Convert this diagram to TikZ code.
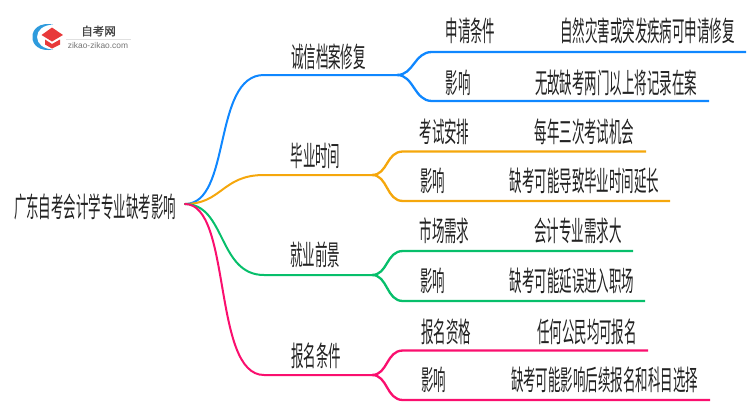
\documentclass[tikz,border=0pt]{standalone}
\usepackage{fontspec}
\newfontfamily\cjkn[FakeStretch=0.445]{Noto Sans CJK SC}
\newfontfamily\cjklogo{Noto Sans CJK SC}
\setsansfont{Liberation Sans}
\definecolor{cblue}{HTML}{0F87FF}
\definecolor{corange}{HTML}{F5A70C}
\definecolor{cgreen}{HTML}{07BF6B}
\definecolor{cpink}{HTML}{FA0F6E}
\definecolor{ctext}{HTML}{222222}
\definecolor{logoblue}{HTML}{2E9BDD}
\definecolor{logored}{HTML}{E8393A}
\tikzset{
  lbl/.style={inner sep=0pt,anchor=center,text=ctext,font=\cjkn\fontsize{28}{28}\selectfont},
  branch/.style={line width=2pt,line cap=round},
  fork/.style={line width=2.3pt},
}
\begin{document}
\begin{tikzpicture}[x=1pt,y=-1pt]
\useasboundingbox (0,0) rectangle (750,410);
% logo
\fill[logoblue] (53,24.5) .. controls (40,22) and (32,29) .. (32.5,37) .. controls (32,45) and (40,52) .. (53,49.5) .. controls (43,49) and (37,44) .. (37,37) .. controls (37,30) and (43,25) .. (53,24.5) -- cycle;
\fill[logored] (41.5,35) -- (52,27.5) -- (63,35) -- (52,41.5) -- cycle;
\fill[logored] (45,39.5) -- (52,44) -- (60,39.5) -- (60,44.5) -- (52,48.5) -- (45,44.5) -- cycle;
\node[inner sep=0pt,text=ctext!85!white,font=\cjklogo\fontsize{11.5}{11.5}\selectfont\addfontfeature{FakeBold=1.5}] (logoa) at (98.5,31) {自考网};
\node[inner sep=0pt,text=black!55,font=\sffamily\fontsize{8.4}{8.4}\selectfont] (logob) at (98,45) {zikao-zikao.com};
\draw[black!12,line width=.5pt] (66,39) -- (131,39);
% root
\node[lbl] (root) at (95,206.5) {广东自考会计学专业缺考影响};
\coordinate (r) at (185,204);
% level 1
\node[lbl] (a) at (328.5,56.5) {诚信档案修复};
\node[lbl] (b) at (315.5,156) {毕业时间};
\node[lbl] (c) at (315,255) {就业前景};
\node[lbl] (d) at (316,356) {报名条件};
% level 2 & 3
\node[lbl] (a1) at (470.5,31) {申请条件};
\node[lbl] (a1x) at (647.5,31) {自然灾害或突发疾病可申请修复};
\node[lbl] (a2) at (458,83) {影响};
\node[lbl] (a2x) at (616,83) {无故缺考两门以上将记录在案};
\node[lbl] (b1) at (444.5,132) {考试安排};
\node[lbl] (b1x) at (584.5,132) {每年三次考试机会};
\node[lbl] (b2) at (432.5,181) {影响};
\node[lbl] (b2x) at (584.5,181) {缺考可能导致毕业时间延长};
\node[lbl] (c1) at (444.5,231) {市场需求};
\node[lbl] (c1x) at (578,231) {会计专业需求大};
\node[lbl] (c2) at (432.5,281) {影响};
\node[lbl] (c2x) at (572,281) {缺考可能延误进入职场};
\node[lbl] (d1) at (446,332) {报名资格};
\node[lbl] (d1x) at (587,332) {任何公民均可报名};
\node[lbl] (d2) at (433.5,380) {影响};
\node[lbl] (d2x) at (604.5,380) {缺考可能影响后续报名和科目选择};
% junctions
\coordinate (ja) at (397,75);
\coordinate (jb) at (372,175);
\coordinate (jc) at (372,275);
\coordinate (jd) at (372,375);
\coordinate (ea1) at (746,52);
\coordinate (ea2) at (709,101);
\coordinate (eb1) at (646,151.5);
\coordinate (eb2) at (670,201);
\coordinate (ec1) at (633,251);
\coordinate (ec2) at (645,301);
\coordinate (ed1) at (648,350.5);
\coordinate (ed2) at (710,400);
% branches
\draw[branch,cblue] (r) .. controls (232,204) and (212,75) .. (264,75) -- (ja);
\draw[fork,cblue] (ja) .. controls (414,75) and (414,52) .. (432,52) -- (ea1);
\draw[fork,cblue] (ja) .. controls (414,75) and (414,101) .. (432,101) -- (ea2);
\draw[branch,corange] (r) .. controls (222,204) and (222,175) .. (264,175) -- (jb);
\draw[fork,corange] (jb) .. controls (388,175) and (386,151.5) .. (403,151.5) -- (eb1);
\draw[fork,corange] (jb) .. controls (388,175) and (386,201) .. (403,201) -- (eb2);
\draw[branch,cgreen] (r) .. controls (226,204) and (218,275) .. (264,275) -- (jc);
\draw[fork,cgreen] (jc) .. controls (388,275) and (386,251) .. (403,251) -- (ec1);
\draw[fork,cgreen] (jc) .. controls (388,275) and (386,301) .. (403,301) -- (ec2);
\draw[branch,cpink] (r) .. controls (232,204) and (212,375) .. (264,375) -- (jd);
\draw[fork,cpink] (jd) .. controls (388,375) and (386,350.5) .. (403,350.5) -- (ed1);
\draw[fork,cpink] (jd) .. controls (388,375) and (386,400) .. (403,400) -- (ed2);
\end{tikzpicture}
\end{document}
